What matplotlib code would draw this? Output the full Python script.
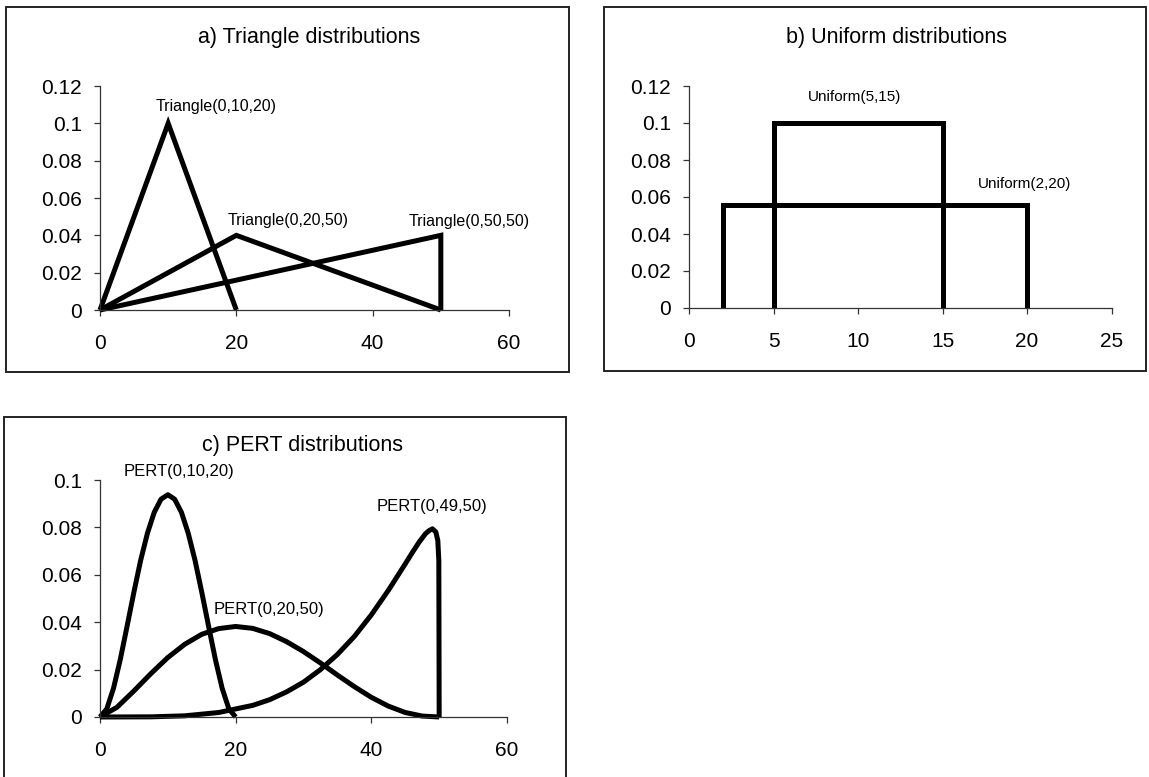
import matplotlib
matplotlib.use("Agg")
import matplotlib.pyplot as plt
from matplotlib.patches import Rectangle

plt.rcParams["font.family"] = ["Liberation Sans", "DejaVu Sans"]

# a) Triangle distributions (min, mode, max)
tri_labels = ["Triangle(0,10,20)", "Triangle(0,20,50)", "Triangle(0,50,50)"]
tri_x = [[0, 10, 20], [0, 20, 50], [0, 50, 50]]
tri_y = [[0, 0.1, 0], [0, 0.04, 0], [0, 0.04, 0]]
tri_label_pos = [(17.0, 0.1088), (27.6, 0.0479), (54.2, 0.0474)]

# b) Uniform distributions
uni_labels = ["Uniform(5,15)", "Uniform(2,20)"]
uni_x = [[5, 5, 15, 15], [2, 2, 20, 20]]
uni_y = [[0, 0.1, 0.1, 0], [0, 0.0556, 0.0556, 0]]
uni_label_pos = [(9.8, 0.1138), (19.85, 0.067)]

# c) PERT distributions
pert1_x = [0, 1, 2, 3, 4, 5, 6, 7, 8, 9, 10, 11, 12, 13, 14, 15, 16, 17, 18, 19, 20]
pert1_y = [0, 0.0034, 0.0122, 0.0244, 0.0384, 0.0527, 0.0662, 0.0776, 0.0864, 0.0919,
           0.0938, 0.0919, 0.0864, 0.0776, 0.0662, 0.0527, 0.0384, 0.0244, 0.0122, 0.0034, 0]
pert2_x = [0, 2.5, 5, 7.5, 10, 12.5, 15, 17.5, 20, 22.5, 25, 27.5, 30, 32.5, 35, 37.5,
           40, 42.5, 45, 47.5, 50]
pert2_y = [0, 0.0041, 0.0110, 0.0183, 0.0251, 0.0307, 0.0349, 0.0373, 0.0382, 0.0374,
           0.0352, 0.0318, 0.0276, 0.0228, 0.0177, 0.0128, 0.0083, 0.0046, 0.0019, 0.0004, 0]
pert3_x = [0, 7.5, 12.5, 17.5, 22.5, 25, 27.5, 30, 32.5, 35, 37.5, 40, 42.5, 45, 46, 47,
           48, 48.5, 49, 49.5, 49.8, 49.95, 50]
pert3_y = [0, 0.00007, 0.0005, 0.0019, 0.0049, 0.0073, 0.0106, 0.0147, 0.0200, 0.0264,
           0.0340, 0.0431, 0.0534, 0.0646, 0.0692, 0.0736, 0.0774, 0.0786, 0.0794, 0.0781,
           0.0745, 0.066, 0]
pert_labels = ["PERT(0,10,20)", "PERT(0,20,50)", "PERT(0,49,50)"]
pert_label_pos = [(11.7, 0.1035), (24.9, 0.0455), (49.0, 0.089)]

a_ticks_x = [0, 20, 40, 60]
a_ticks_y = [0, 0.02, 0.04, 0.06, 0.08, 0.1, 0.12]
b_ticks_x = [0, 5, 10, 15, 20, 25]
c_ticks_y = [0, 0.02, 0.04, 0.06, 0.08, 0.1]

W, H = 1149, 777
fig = plt.figure(figsize=(W / 100, H / 100), dpi=100)


def px_rect(x0, y0, x1, y1):
    return [x0 / W, 1 - y1 / H, (x1 - x0) / W, (y1 - y0) / H]


def style(ax, xticks, yticks):
    for s in ["top", "right"]:
        ax.spines[s].set_visible(False)
    for s in ["left", "bottom"]:
        ax.spines[s].set_linewidth(0.9)
        ax.spines[s].set_color("#333333")
    ax.set_xlim(xticks[0], xticks[-1])
    ax.set_ylim(yticks[0], yticks[-1])
    ax.set_xticks(xticks)
    ax.set_yticks(yticks)
    ax.set_xticklabels([f"{t:g}" for t in xticks])
    ax.set_yticklabels([f"{t:g}" for t in yticks])
    ax.tick_params(axis="x", direction="out", length=4, width=0.9, pad=13,
                   labelsize=15, colors="#333333", labelcolor="black")
    ax.tick_params(axis="y", direction="out", length=4, width=0.9, pad=9,
                   labelsize=15, colors="#333333", labelcolor="black")
    ax.patch.set_visible(False)


line_kw = dict(color="black", lw=3.6, clip_on=False, solid_joinstyle="miter",
               solid_capstyle="butt")

# panel frames
for x0, y0, x1, y1 in [(6, 7, 569, 372), (604, 7, 1146, 371), (4, 417, 566, 800)]:
    fig.patches.append(Rectangle((x0 / W, 1 - y1 / H), (x1 - x0) / W, (y1 - y0) / H,
                                 transform=fig.transFigure, fill=False,
                                 lw=1.4, edgecolor="#222222"))

# a) triangle
ax1 = fig.add_axes(px_rect(100, 86, 509, 310))
for xs, ys in zip(tri_x, tri_y):
    ax1.plot(xs, ys, **line_kw)
for lab, (lx, ly) in zip(tri_labels, tri_label_pos):
    ax1.text(lx, ly, lab, ha="center", va="center", fontsize=11.5)
style(ax1, a_ticks_x, a_ticks_y)
fig.text(309 / W, 1 - 38 / H, "a) Triangle distributions", ha="center", va="center",
         fontsize=15.5)

# b) uniform
ax2 = fig.add_axes(px_rect(689, 86, 1111.6, 308))
for xs, ys in zip(uni_x, uni_y):
    ax2.plot(xs, ys, **line_kw)
for lab, (lx, ly) in zip(uni_labels, uni_label_pos):
    ax2.text(lx, ly, lab, ha="center", va="center", fontsize=11)
style(ax2, b_ticks_x, a_ticks_y)
fig.text(896 / W, 1 - 38 / H, "b) Uniform distributions", ha="center", va="center",
         fontsize=15.5)

# c) PERT
ax3 = fig.add_axes(px_rect(100, 480, 507, 717))
for xs, ys in [(pert1_x, pert1_y), (pert2_x, pert2_y), (pert3_x, pert3_y)]:
    ax3.plot(xs, ys, **dict(line_kw, solid_joinstyle="round"))
for lab, (lx, ly) in zip(pert_labels, pert_label_pos):
    ax3.text(lx, ly, lab, ha="center", va="center", fontsize=12)
style(ax3, a_ticks_x, c_ticks_y)
fig.text(303 / W, 1 - 445 / H, "c) PERT distributions", ha="center", va="center",
         fontsize=15.5)

fig.savefig("out.png", dpi=100)
